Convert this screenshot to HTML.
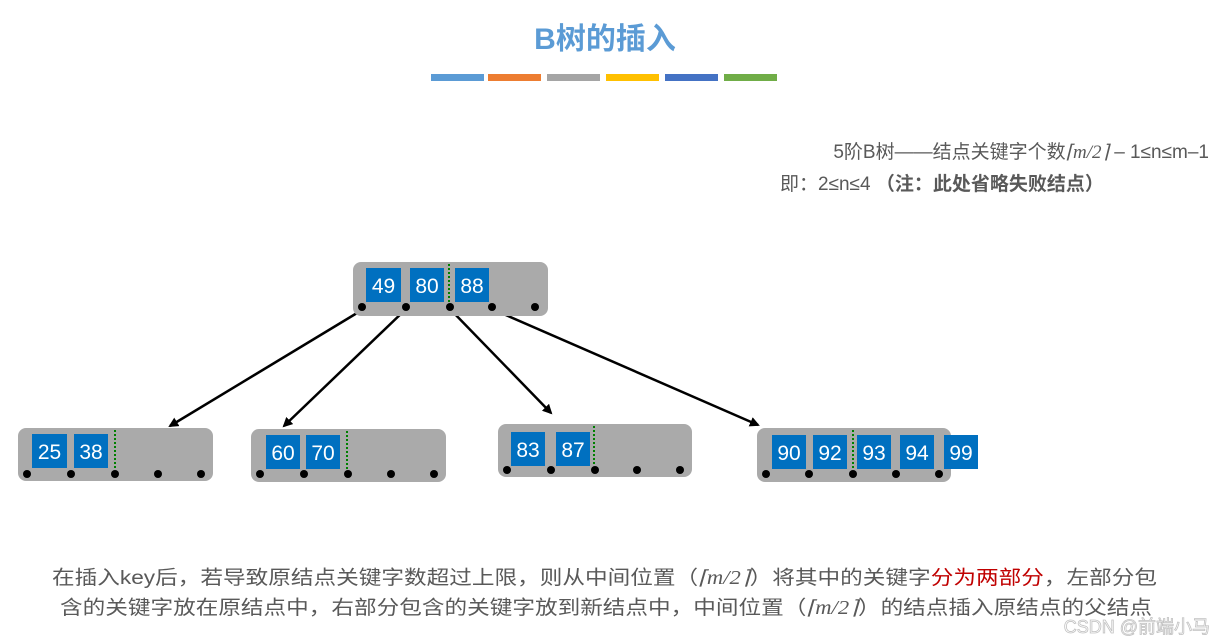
<!DOCTYPE html>
<html><head><meta charset="utf-8"><style>
html,body{margin:0;padding:0;background:#fff;}
svg{display:block;}
text{font-family:"Liberation Sans","Noto Sans CJK SC",sans-serif;}
.k{fill:#fff;font-size:21px;text-anchor:middle;}
</style></head><body>
<svg width="1215" height="644" viewBox="0 0 1215 644" xmlns="http://www.w3.org/2000/svg">
<defs><marker id="a" markerWidth="10" markerHeight="10" refX="8" refY="5" orient="auto" markerUnits="userSpaceOnUse"><path d="M0,0 L10,5 L0,10 z" fill="#000"/></marker></defs>
<text x="605" y="49" text-anchor="middle" font-size="30" font-weight="bold" fill="#5b9bd5">B树的插入</text>
<rect x="431" y="74" width="53" height="7" fill="#5b9bd5"/>
<rect x="488" y="74" width="53" height="7" fill="#ed7d31"/>
<rect x="547" y="74" width="53" height="7" fill="#a5a5a5"/>
<rect x="606" y="74" width="53" height="7" fill="#ffc000"/>
<rect x="665" y="74" width="53" height="7" fill="#4472c4"/>
<rect x="724" y="74" width="53" height="7" fill="#70ad47"/>
<text x="1209" y="158" text-anchor="end" font-size="19" fill="#595959">5阶B树——结点关键字个数<tspan font-family="Liberation Serif" font-style="italic">⌈m/2⌉</tspan> – 1≤n≤m–1</text>
<text x="780" y="190" font-size="19" fill="#595959">即：2≤n≤4 <tspan font-weight="bold">（注：此处省略失败结点）</tspan></text>

<g stroke="#000" stroke-width="2.5" marker-end="url(#a)">
<line x1="362" y1="310" x2="170" y2="426"/>
<line x1="406" y1="309" x2="284" y2="426"/>
<line x1="450" y1="309" x2="551" y2="413"/>
<line x1="492" y1="309" x2="758" y2="425"/>
</g>

<!-- root -->
<rect x="353" y="262" width="195" height="54" rx="8" fill="#aaa"/>
<rect x="366" y="268" width="35" height="34" fill="#0070c0"/><text class="k" x="383.5" y="293">49</text>
<rect x="410" y="268" width="34" height="34" fill="#0070c0"/><text class="k" x="427" y="293">80</text>
<rect x="455" y="268" width="34" height="34" fill="#0070c0"/><text class="k" x="472" y="293">88</text>
<line x1="449" y1="264" x2="449" y2="302" stroke="#008000" stroke-width="2" stroke-dasharray="2,2"/>
<g fill="#000"><circle cx="362" cy="307" r="4"/><circle cx="406" cy="307" r="4"/><circle cx="450" cy="307" r="4"/><circle cx="492" cy="307" r="4"/><circle cx="535" cy="307" r="4"/></g>

<!-- leaf1 -->
<rect x="18" y="428" width="195" height="53" rx="8" fill="#aaa"/>
<rect x="32" y="434" width="35" height="34" fill="#0070c0"/><text class="k" x="49.5" y="459">25</text>
<rect x="74" y="434" width="34" height="34" fill="#0070c0"/><text class="k" x="91" y="459">38</text>
<line x1="115" y1="430" x2="115" y2="468" stroke="#008000" stroke-width="2" stroke-dasharray="2,2"/>
<g fill="#000"><circle cx="27" cy="474" r="4"/><circle cx="71" cy="474" r="4"/><circle cx="115" cy="474" r="4"/><circle cx="158" cy="474" r="4"/><circle cx="201" cy="474" r="4"/></g>

<!-- leaf2 -->
<rect x="251" y="429" width="195" height="53" rx="8" fill="#aaa"/>
<rect x="266" y="435" width="34" height="34" fill="#0070c0"/><text class="k" x="283" y="460">60</text>
<rect x="306" y="435" width="34" height="34" fill="#0070c0"/><text class="k" x="323" y="460">70</text>
<line x1="347" y1="431" x2="347" y2="469" stroke="#008000" stroke-width="2" stroke-dasharray="2,2"/>
<g fill="#000"><circle cx="260" cy="474" r="4"/><circle cx="304" cy="474" r="4"/><circle cx="348" cy="474" r="4"/><circle cx="391" cy="474" r="4"/><circle cx="434" cy="474" r="4"/></g>

<!-- leaf3 -->
<rect x="498" y="424" width="194" height="53" rx="8" fill="#aaa"/>
<rect x="511" y="432" width="34" height="34" fill="#0070c0"/><text class="k" x="528" y="457">83</text>
<rect x="556" y="432" width="34" height="34" fill="#0070c0"/><text class="k" x="573" y="457">87</text>
<line x1="594" y1="426" x2="594" y2="464" stroke="#008000" stroke-width="2" stroke-dasharray="2,2"/>
<g fill="#000"><circle cx="507" cy="470" r="4"/><circle cx="551" cy="470" r="4"/><circle cx="595" cy="470" r="4"/><circle cx="637" cy="470" r="4"/><circle cx="680" cy="470" r="4"/></g>

<!-- leaf4 -->
<rect x="757" y="428" width="194" height="54" rx="8" fill="#aaa"/>
<rect x="772" y="435" width="34" height="34" fill="#0070c0"/><text class="k" x="789" y="460">90</text>
<rect x="813" y="435" width="34" height="34" fill="#0070c0"/><text class="k" x="830" y="460">92</text>
<rect x="857" y="435" width="34" height="34" fill="#0070c0"/><text class="k" x="874" y="460">93</text>
<rect x="900" y="435" width="34" height="34" fill="#0070c0"/><text class="k" x="917" y="460">94</text>
<rect x="944" y="435" width="34" height="34" fill="#0070c0"/><text class="k" x="961" y="460">99</text>
<line x1="853" y1="430" x2="853" y2="469" stroke="#008000" stroke-width="2" stroke-dasharray="2,2"/>
<g fill="#000"><circle cx="766" cy="474" r="4"/><circle cx="809" cy="474" r="4"/><circle cx="853" cy="474" r="4"/><circle cx="896" cy="474" r="4"/><circle cx="939" cy="474" r="4"/></g>

<text x="52" y="584" font-size="19.5" fill="#595959" textLength="1105" lengthAdjust="spacingAndGlyphs">在插入key后，若导致原结点关键字数超过上限，则从中间位置（<tspan font-family="Liberation Serif" font-style="italic">⌈m/2⌉</tspan>）将其中的关键字<tspan fill="#c00000">分为两部分</tspan>，左部分包</text>
<text x="60" y="614" font-size="19.5" fill="#595959" textLength="1092" lengthAdjust="spacingAndGlyphs">含的关键字放在原结点中，右部分包含的关键字放到新结点中，中间位置（<tspan font-family="Liberation Serif" font-style="italic">⌈m/2⌉</tspan>）的结点插入原结点的父结点</text>
<text x="1210" y="633" text-anchor="end" font-size="18" fill="#fff" stroke="#bbb" stroke-width="0.8" opacity="0.9">CSDN @前端小马</text>
</svg>
</body></html>
